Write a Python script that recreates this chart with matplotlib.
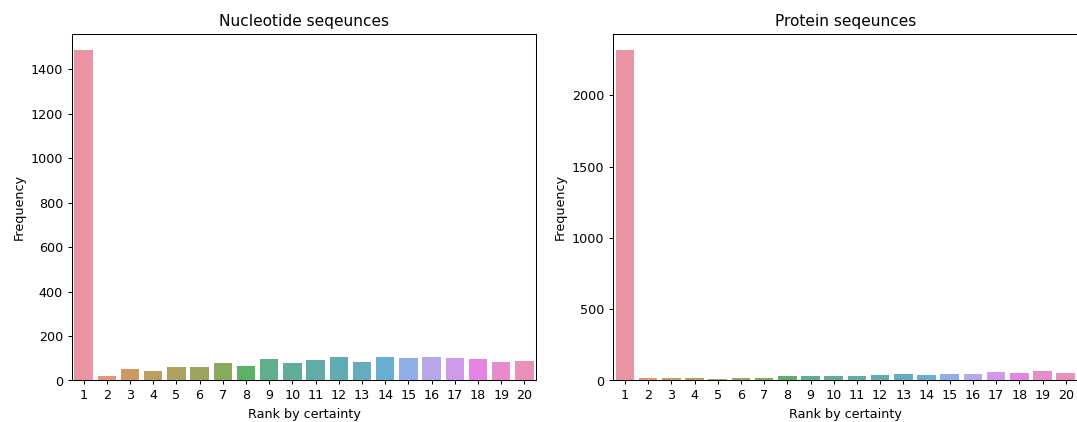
import matplotlib
matplotlib.use("Agg")
import matplotlib.pyplot as plt
import seaborn as sns

ranks = [str(i) for i in range(1, 21)]
nucleotide_freq = [1485, 21, 51, 42, 60, 60, 77, 65, 98, 77, 90, 107, 81, 107, 102, 107, 102, 98, 81, 86]
protein_freq = [2315, 21, 16, 16, 9, 21, 21, 31, 35, 35, 35, 42, 49, 42, 49, 49, 61, 54, 68, 54]
titles = ["Nucleotide seqeunces", "Protein seqeunces"]

palette = [sns.desaturate(c, 0.75) for c in sns.color_palette("husl", len(ranks))]

W, H = 1077, 422
DPI = 92
fig = plt.figure(figsize=((W + 0.01) / DPI, (H + 0.01) / DPI), dpi=DPI)
ax_rects = [
    (72 / W, 1 - 380.5 / H, 464 / W, 346.5 / H),
    (613.3 / W, 1 - 380.5 / H, 464 / W, 346.5 / H),
]

for rect, vals, title in zip(ax_rects, [nucleotide_freq, protein_freq], titles):
    ax = fig.add_axes(rect)
    pos = list(range(len(ranks)))
    ax.bar(pos, vals, width=0.8, color=palette, alpha=0.85,
           edgecolor="white", linewidth=0.0)
    ax.set_xticks(pos)
    ax.set_xticklabels(ranks)
    ax.set_xlim(-0.5, len(ranks) - 0.5)
    ax.set_xlabel("Rank by certainty")
    ax.set_ylabel("Frequency")
    ax.set_title(title)

fig.savefig("out.png", dpi=DPI)
